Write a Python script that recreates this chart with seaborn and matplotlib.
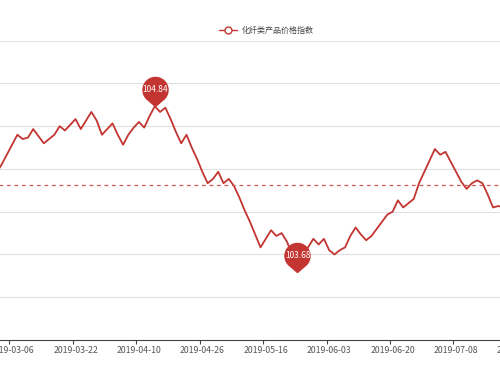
import numpy as np
import pandas as pd
import seaborn as sns
import matplotlib.pyplot as plt
from matplotlib.path import Path
from matplotlib.lines import Line2D

# chemical fibre price index, one value per trading day
# first three points come before the 2019-03-06 label
index_values = [
    104.37, 104.43, 104.50,
    104.57, 104.64, 104.61, 104.62, 104.68, 104.63, 104.58, 104.61, 104.64, 104.70,
    104.67, 104.71, 104.75, 104.68, 104.74, 104.80, 104.74, 104.64, 104.68, 104.72,
    104.64, 104.57, 104.64, 104.69, 104.73, 104.69, 104.77, 104.84, 104.80, 104.83,
    104.75, 104.66, 104.58, 104.64, 104.55, 104.47, 104.38, 104.30, 104.33, 104.38,
    104.30, 104.33, 104.28, 104.20, 104.11, 104.03, 103.94, 103.85, 103.91, 103.97,
    103.93, 103.95, 103.89, 103.80, 103.68, 103.77, 103.85, 103.91, 103.87, 103.91,
    103.83, 103.80, 103.83, 103.85, 103.93, 103.99, 103.94, 103.90, 103.93, 103.98,
    104.03, 104.08, 104.10, 104.18, 104.13, 104.16, 104.19, 104.30, 104.38, 104.46,
    104.54, 104.50, 104.52, 104.45, 104.38, 104.31, 104.26, 104.30, 104.32, 104.30,
    104.22, 104.13, 104.14, 104.13,
]
lead_points = 3
tick_labels = ['2019-03-06', '2019-03-22', '2019-04-10', '2019-04-26', '2019-05-16',
               '2019-06-03', '2019-06-20', '2019-07-08', '2019-07-24']
tick_step = 12
avg_value = 104.29
series_name = '化纤类产品价格指数'

red = '#c23531'

df = pd.DataFrame({'pos': np.arange(len(index_values)) - lead_points,
                   'value': index_values})

sns.set_theme(style='white')
plt.rcParams['font.family'] = ['Noto Sans CJK SC', 'DejaVu Sans']

fig = plt.figure(figsize=(5, 3.75), dpi=100)
# the plot area runs past both edges of the picture (it's a cropped chart)
ax = fig.add_axes([-0.12, 0.0933, 1.24, 0.7982])

ax.yaxis.grid(True, color='#e0e0e0', lw=0.8)
ax.set_axisbelow(True)

sns.lineplot(data=df, x='pos', y='value', color=red, lw=1.3, ax=ax, legend=False)

# average line
ax.axhline(avg_value, color='#d05a56', lw=0.9, ls=(0, (3, 3)))

# pin markers for max / min
r, h = 12.5, 16.5
t = np.arccos(r / h)
ang = np.linspace(-np.pi / 2 + t, 3 * np.pi / 2 - t, 40)
verts = [(0, 0)] + list(zip(r * np.cos(ang), h + r * np.sin(ang))) + [(0, 0)]
pin = Path(verts)

for idx in [df['value'].idxmax(), df['value'].idxmin()]:
    px, py = df.loc[idx, 'pos'], df.loc[idx, 'value']
    ax.plot(px, py, marker=pin, ms=41.8, color=red, mec=red, zorder=5)
    ax.annotate(f'{py:.2f}', (px, py), xytext=(0, 11.9), textcoords='offset points',
                ha='center', va='center', color='white', fontsize=6, zorder=6)

ax.set_xlim(-13.64, 103.67)
ax.set_ylim(103.2, 105.3)
ax.set_yticks(np.arange(103.5, 105.31, 0.3))
ax.tick_params(axis='y', length=0, labelleft=False)

label_pos = np.arange(len(tick_labels)) * tick_step
ax.set_xticks(label_pos)
ax.set_xticklabels(tick_labels, fontsize=6.3, color='#555')
ax.tick_params(axis='x', which='major', length=0, pad=4.5)
ax.set_xticks(label_pos - 0.5, minor=True)
ax.tick_params(axis='x', which='minor', length=3, width=0.8, color='#444', bottom=True)

for s in ['top', 'left', 'right']:
    ax.spines[s].set_visible(False)
ax.spines['bottom'].set_color('#444')
ax.spines['bottom'].set_linewidth(0.8)
ax.set_xlabel('')
ax.set_ylabel('')

handle = Line2D([], [], color=red, lw=1.0, marker='o', ms=5, mfc='white', mec=red, mew=1.0)
fig.legend(handles=[handle], labels=[series_name], loc='center',
           bbox_to_anchor=(0.533, 0.92), frameon=False, fontsize=5.8,
           handlelength=2.2, handletextpad=0.6, labelcolor='#444')

fig.savefig('out.png', dpi=100)
